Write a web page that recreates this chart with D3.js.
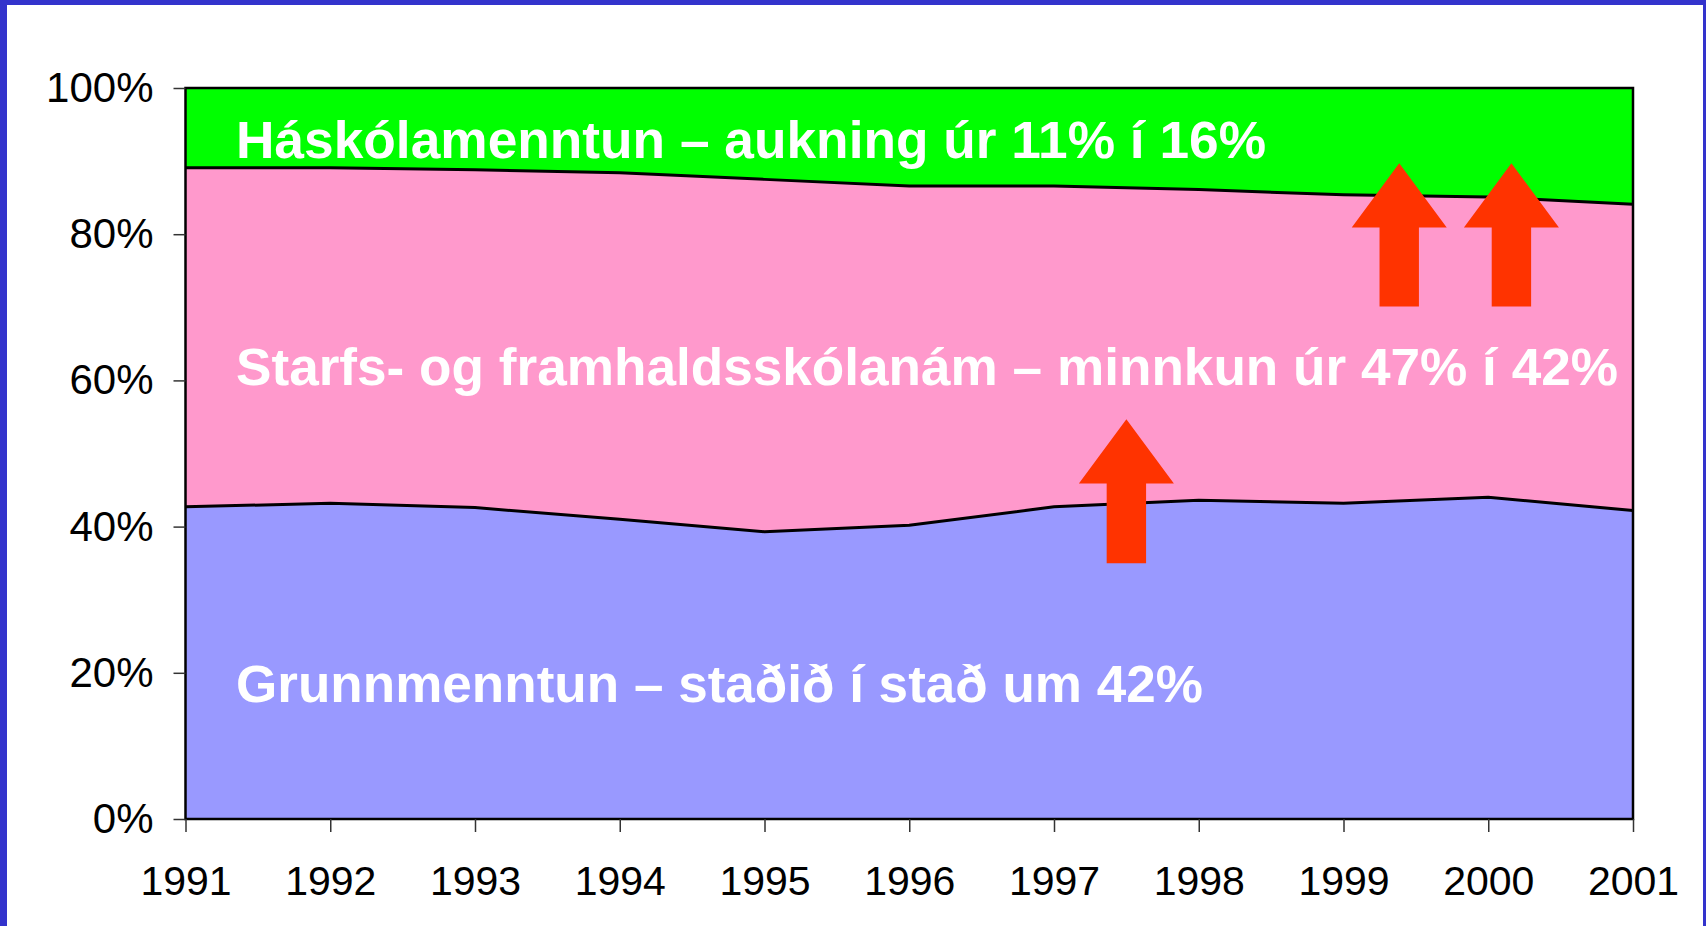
<!DOCTYPE html>
<html>
<head>
<meta charset="utf-8">
<script src="https://cdn.jsdelivr.net/npm/d3@7"></script>
<style>
  body { margin: 0; background: #fff; }
  svg { display: block; font-family: "Liberation Sans", Arial, sans-serif; }
</style>
</head>
<body>
<div id="chart"></div>
<script>
// data (percent of workforce by education level)
var years = [1991, 1992, 1993, 1994, 1995, 1996, 1997, 1998, 1999, 2000, 2001];
var grunnmenntun = [42.7, 43.2, 42.6, 41.0, 39.3, 40.2, 42.7, 43.6, 43.2, 44.0, 42.2];
var starfsnam    = [46.4, 45.9, 46.2, 47.4, 48.2, 46.4, 43.9, 42.5, 42.2, 41.1, 41.9];
var haskoli      = [10.9, 10.9, 11.2, 11.6, 12.5, 13.4, 13.4, 13.9, 14.6, 14.9, 15.9];
var yTicks = [0, 20, 40, 60, 80, 100];
var seriesKeys = ["grunn", "starfs", "hask"];
var seriesColors = ["#9999ff", "#ff99cc", "#00ff00"];
var labelTexts = [
  "Grunnmenntun – staðið í stað um 42%",
  "Starfs- og framhaldsskólanám – minnkun úr 47% í 42%",
  "Háskólamenntun – aukning úr 11% í 16%"
];

var W = 1706, H = 926;
var margin = {top: 88, right: 73, bottom: 107, left: 185.5};
var width = W - margin.left - margin.right,
    height = H - margin.top - margin.bottom;

var svg = d3.select("#chart").append("svg")
    .attr("width", W)
    .attr("height", H);

// blue slide frame
svg.append("rect").attr("x", 0).attr("y", 0).attr("width", 7).attr("height", H).attr("fill", "#3333cc");
svg.append("rect").attr("x", 0).attr("y", 0).attr("width", W).attr("height", 5).attr("fill", "#3333cc");
svg.append("rect").attr("x", W - 3).attr("y", 0).attr("width", 3).attr("height", H).attr("fill", "#3333cc");

var g = svg.append("g")
    .attr("transform", "translate(" + margin.left + "," + margin.top + ")");

var table = years.map(function(yr, i) {
  return {year: yr, grunn: grunnmenntun[i], starfs: starfsnam[i], hask: haskoli[i]};
});

var stacked = d3.stack().keys(seriesKeys)(table);

var x = d3.scaleLinear().domain([years[0], years[years.length - 1]]).range([0, width]);
var y = d3.scaleLinear().domain([0, 100]).range([height, 0]);

var area = d3.area()
    .x(function(d) { return x(d.data.year); })
    .y0(function(d) { return y(d[0]); })
    .y1(function(d) { return y(Math.min(d[1], 100)); });

g.selectAll("path.layer")
  .data(stacked)
  .enter().append("path")
    .attr("class", "layer")
    .attr("d", area)
    .attr("fill", function(d, i) { return seriesColors[i]; });

// black boundary lines between layers
var line = d3.line()
    .x(function(d) { return x(d.data.year); })
    .y(function(d) { return y(d[1]); });

g.selectAll("path.edge")
  .data(stacked.slice(0, 2))
  .enter().append("path")
    .attr("class", "edge")
    .attr("d", line)
    .attr("fill", "none")
    .attr("stroke", "#000")
    .attr("stroke-width", 3);

// plot frame
g.append("rect")
  .attr("x", 0).attr("y", 0)
  .attr("width", width).attr("height", height)
  .attr("fill", "none")
  .attr("stroke", "#000")
  .attr("stroke-width", 2.5);

// axes
var yAxis = g.append("g")
  .call(d3.axisLeft(y).tickValues(yTicks).tickFormat(function(d) { return d + "%"; })
        .tickSize(12).tickPadding(20));
yAxis.select(".domain").remove();
yAxis.selectAll("line").attr("stroke", "#333").attr("stroke-width", 1.5);
yAxis.selectAll("text").attr("font-size", 42).attr("fill", "#000")
  .attr("font-family", "'Liberation Sans', Arial, sans-serif");

var xAxis = g.append("g")
  .attr("transform", "translate(0," + height + ")")
  .call(d3.axisBottom(x).tickValues(years).tickFormat(d3.format("d"))
        .tickSize(13).tickPadding(34));
xAxis.select(".domain").remove();
xAxis.selectAll("line").attr("stroke", "#333").attr("stroke-width", 1.5);
xAxis.selectAll("text").attr("font-size", 41).attr("fill", "#000")
  .attr("font-family", "'Liberation Sans', Arial, sans-serif");

// red arrows
function arrow(cx, tipV, baseV, endV) {
  var px = x(cx), tip = y(tipV), base = y(baseV), end = y(endV);
  var hw = 47.5, sw = 19.7;
  return "M" + px + "," + tip +
         "L" + (px + hw) + "," + base +
         "L" + (px + sw) + "," + base +
         "L" + (px + sw) + "," + end +
         "L" + (px - sw) + "," + end +
         "L" + (px - sw) + "," + base +
         "L" + (px - hw) + "," + base + "Z";
}
g.append("path").attr("d", arrow(1997.5, 54.7, 45.9, 35.0)).attr("fill", "#ff3300");
g.append("path").attr("d", arrow(1999.385, 89.7, 80.9, 70.1)).attr("fill", "#ff3300");
g.append("path").attr("d", arrow(2000.16, 89.7, 80.9, 70.1)).attr("fill", "#ff3300");

// white labels inside the layers
var labelX = 236 - margin.left;
var labelY = [702, 385, 158];
var labelW = [967, 1382, 1030];
labelTexts.forEach(function(t, i) {
  g.append("text")
    .attr("x", labelX)
    .attr("y", labelY[i] - margin.top)
    .attr("fill", "#fff")
    .attr("font-weight", "bold")
    .attr("font-size", 51)
    .attr("textLength", labelW[i])
    .attr("lengthAdjust", "spacingAndGlyphs")
    .text(t);
});
</script>
</body>
</html>
